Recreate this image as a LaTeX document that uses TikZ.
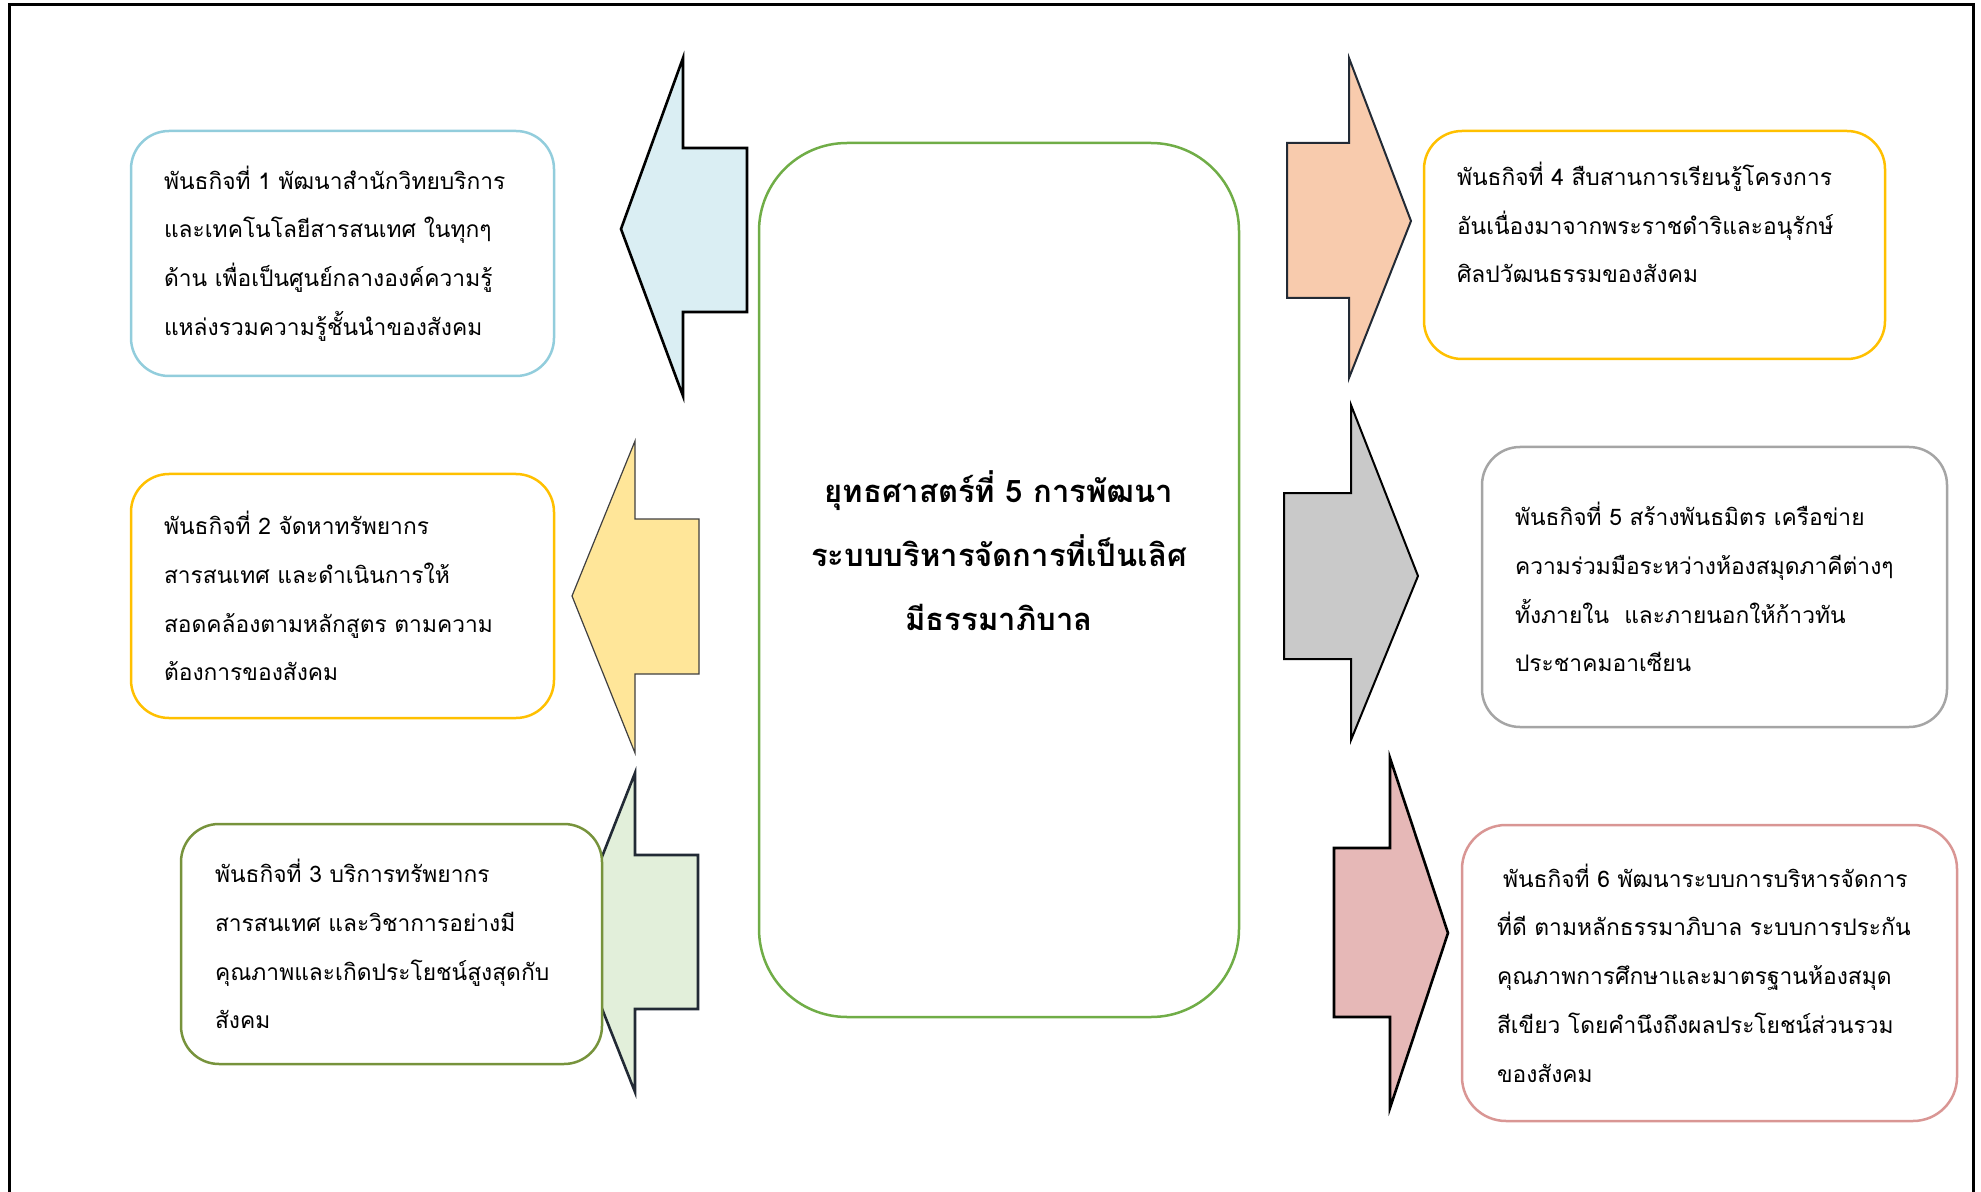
\documentclass[tikz,border=0pt]{standalone}
\usepackage{fontspec}
\newfontfamily\thai[Script=Thai]{Loma}
\definecolor{bluebd}{HTML}{92CDDC}
\definecolor{bluefl}{HTML}{DAEEF3}
\definecolor{goldbd}{HTML}{FFC000}
\definecolor{yellowfl}{HTML}{FFE699}
\definecolor{olivebd}{HTML}{77933C}
\definecolor{greenfl}{HTML}{E2EFDA}
\definecolor{navyst}{HTML}{222A35}
\definecolor{centerbd}{HTML}{70AD47}
\definecolor{peachfl}{HTML}{F8CBAD}
\definecolor{graybd}{HTML}{A5A5A5}
\definecolor{grayfl}{HTML}{C9C9C9}
\definecolor{pinkbd}{HTML}{D99694}
\definecolor{pinkfl}{HTML}{E6B8B7}
\begin{document}
\begin{tikzpicture}[x=0.5pt,y=-0.5pt,
  mbox/.style={draw, line width=1.25pt, fill=white, rounded corners=19pt,
    align=left, inner ysep=0pt, font=\thai\fontsize{11.4}{24.4}\selectfont},
  blockarrow/.style={line width=1.2pt, line join=miter}
]
\useasboundingbox (0,0) rectangle (1981,1192);
% frame
\draw[line width=1.5pt] (9,1195) -- (9,5) -- (1973,5) -- (1973,1195);

% block arrows
\draw[blockarrow, fill=bluefl, draw=black, line width=1.3pt]
  (621,229) -- (683,58) -- (683,148) -- (747,148) -- (747,312) -- (683,312) -- (683,396) -- cycle;
\draw[blockarrow, fill=yellowfl, draw=black!75, line width=0.6pt]
  (572,596) -- (635,441) -- (635,519) -- (699,519) -- (699,674) -- (635,674) -- (635,753) -- cycle;
\draw[blockarrow, fill=greenfl, draw=navyst, line width=1.3pt]
  (572,933) -- (635,773) -- (635,855) -- (698,855) -- (698,1009) -- (635,1009) -- (635,1092) -- cycle;
\draw[blockarrow, fill=peachfl, draw=navyst, line width=1pt]
  (1411,221) -- (1349,58) -- (1349,143) -- (1287,143) -- (1287,298) -- (1349,298) -- (1349,378) -- cycle;
\draw[blockarrow, fill=grayfl, draw=black, line width=1pt]
  (1418,576) -- (1351,405) -- (1351,493) -- (1284,493) -- (1284,659) -- (1351,659) -- (1351,740) -- cycle;
\draw[blockarrow, fill=pinkfl, draw=black, line width=1.3pt]
  (1448,933) -- (1390,758) -- (1390,848) -- (1334,848) -- (1334,1017) -- (1390,1017) -- (1390,1108) -- cycle;

% center box
\node[draw=centerbd, line width=1.25pt, rounded corners=44pt, fill=white,
  minimum width=240pt, minimum height=437pt, inner sep=0pt] (center) at (999,580) {};
\node[align=center, font=\thai\bfseries\fontsize{15.5}{32}\selectfont] (title) at (999,551)
  {ยุทธศาสตร์ที่~5~การพัฒนา\\ระบบบริหารจัดการที่เป็นเลิศ\\มีธรรมาภิบาล};

% mission boxes
\node[mbox, draw=bluebd, minimum width=211.5pt, minimum height=122.5pt,
  inner xsep=16.5pt, text width=178.5pt] (m1) at (342.5,253.5)
  {พันธกิจที่~1~พัฒนาสำนักวิทยบริการ\\และเทคโนโลยีสารสนเทศ~ในทุกๆ\\ด้าน~เพื่อเป็นศูนย์กลางองค์ความรู้\\แหล่งรวมความรู้ชั้นนำของสังคม};
\node[mbox, draw=goldbd, minimum width=211.5pt, minimum height=122pt,
  inner xsep=16.5pt, text width=178.5pt] (m2) at (342.5,596)
  {พันธกิจที่~2~จัดหาทรัพยากร\\สารสนเทศ~และดำเนินการให้\\สอดคล้องตามหลักสูตร~ตามความ\\ต้องการของสังคม};
\node[mbox, draw=olivebd, minimum width=210.5pt, minimum height=120pt,
  inner xsep=17pt, text width=176.5pt] (m3) at (391.5,944)
  {พันธกิจที่~3~บริการทรัพยากร\\สารสนเทศ~และวิชาการอย่างมี\\คุณภาพและเกิดประโยชน์สูงสุดกับ\\สังคม};
\node[mbox, draw=goldbd, minimum width=230.5pt, minimum height=114pt,
  inner xsep=16.5pt, text width=197.5pt] (m4) at (1654.5,245)
  {พันธกิจที่~4~สืบสานการเรียนรู้โครงการ\\อันเนื่องมาจากพระราชดำริและอนุรักษ์\\ศิลปวัฒนธรรมของสังคม\\[-1.8pt]\mbox{}};
\node[mbox, draw=graybd, minimum width=232.5pt, minimum height=140pt,
  inner xsep=16.5pt, text width=199.5pt] (m5) at (1714.5,587)
  {พันธกิจที่~5~สร้างพันธมิตร~เครือข่าย\\ความร่วมมือระหว่างห้องสมุดภาคีต่างๆ\\ทั้งภายใน~~และภายนอกให้ก้าวทัน\\ประชาคมอาเซียน};
\node[mbox, draw=pinkbd, rounded corners=22pt, minimum width=247.5pt, minimum height=148pt,
  inner xsep=17.5pt, text width=212.5pt] (m6) at (1709.5,973)
  {\hspace*{3pt}พันธกิจที่~6~พัฒนาระบบการบริหารจัดการ\\ที่ดี~ตามหลักธรรมาภิบาล~ระบบการประกัน\\คุณภาพการศึกษาและมาตรฐานห้องสมุด\\สีเขียว~โดยคำนึงถึงผลประโยชน์ส่วนรวม\\ของสังคม};
\end{tikzpicture}
\end{document}
